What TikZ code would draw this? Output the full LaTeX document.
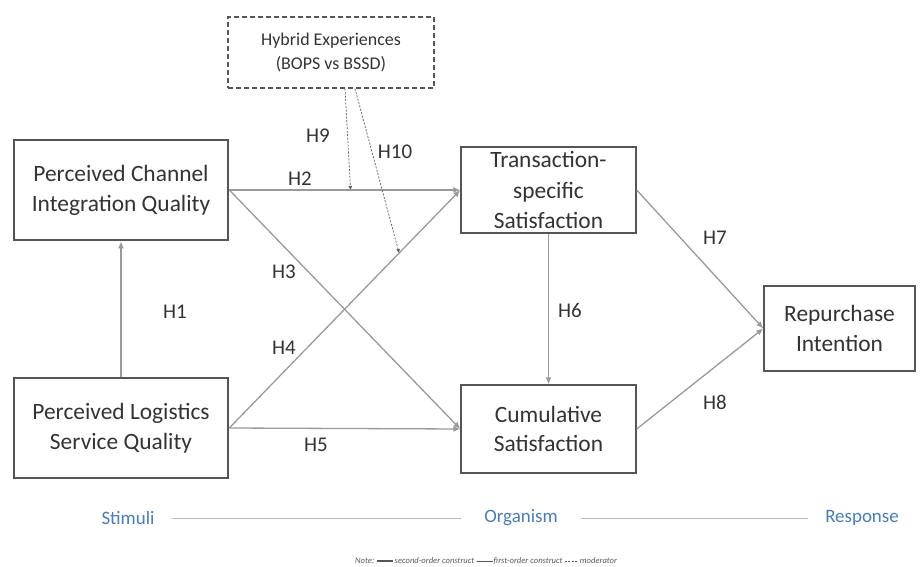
\documentclass[tikz,border=0pt]{standalone}
\usepackage{fontspec}
\setmainfont{Carlito}
\usetikzlibrary{arrows.meta,calc}
\definecolor{boxc}{HTML}{555555}
\definecolor{linec}{HTML}{9A9A9A}
\definecolor{txtc}{HTML}{333333}
\definecolor{sorc}{HTML}{4A7DB0}
\tikzset{
  thickbox/.style={draw=boxc, line width=2.6bp, fill=white, align=center, font=\fontsize{23.5}{30}\selectfont, text=txtc, inner sep=0pt},
  thinbox/.style={draw=boxc, line width=1.4bp, fill=white, align=center, font=\fontsize{23.5}{30}\selectfont, text=txtc, inner sep=0pt},
  dashbox/.style={draw=boxc, line width=1.2bp, dash pattern=on 5bp off 3bp, fill=white, align=center, font=\fontsize{18}{25}\selectfont, text=txtc, inner sep=0pt},
  path/.style={draw=linec, line width=1.3bp, -{Latex[length=7bp,width=6bp]}},
  modpath/.style={draw=txtc!80, line width=0.7bp, dash pattern=on 2bp off 1.5bp, -{Latex[length=4bp,width=4bp]}},
  hlab/.style={font=\fontsize{21}{24}\selectfont, text=txtc},
  sor/.style={font=\fontsize{19}{22}\selectfont, text=sorc},
  sorline/.style={draw=linec!70, line width=0.9bp},
  notet/.style={font=\fontsize{8.6}{9}\selectfont\itshape, text=txtc!80, anchor=west, inner sep=1bp}
}
\begin{document}
\begin{tikzpicture}[x=1bp,y=-1bp]
\useasboundingbox[fill=white] (0,0) rectangle (923,567);
\node[dashbox, minimum width=206bp, minimum height=71bp] (hyb) at (331,52.5) {Hybrid Experiences\\(BOPS vs BSSD)};
\node[thickbox, minimum width=214bp, minimum height=100bp] (pciq) at (121,190) {Perceived Channel\\Integration Quality};
\node[thickbox, minimum width=214bp, minimum height=100bp] (plsq) at (121,428) {Perceived Logistics\\Service Quality};
\node[thinbox, minimum width=175bp, minimum height=86bp, font=\fontsize{23.5}{31}\selectfont] (tss) at (548.5,190) {Transaction-\\specific\\Satisfaction};
\node[thinbox, minimum width=175bp, minimum height=88bp] (cs) at (548.5,429) {Cumulative\\Satisfaction};
\node[thinbox, minimum width=151bp, minimum height=85bp] (ri) at (839.5,328.5) {Repurchase\\Intention};

\coordinate (pe) at (pciq.east);
\coordinate (le) at (plsq.east);
\draw[path] (pe) -- (tss.west);
\draw[path] (pe) -- (cs.west);
\draw[path] (le) -- (tss.west);
\draw[path] (le) -- (cs.west);
\draw[path] (plsq.north) -- (pciq.south);
\draw[path] (tss.south) -- (cs.north);
\draw[path] (tss.east) -- (ri.west);
\draw[path] (cs.east) -- (ri.west);

\coordinate (h9s) at ($(hyb.south)+(14,0)$);
\coordinate (h10s) at ($(hyb.south)+(24,0)$);
\coordinate (h9t) at ($(pe)!0.525!(tss.west)$);
\coordinate (h10t) at ($(le)!0.735!(tss.west)$);
\draw[modpath] (h9s) -- (h9t);
\draw[modpath] (h10s) -- (h10t);

\node[hlab] (l1) at (175,312) {H1};
\node[hlab] (l2) at (300,179) {H2};
\node[hlab] (l3) at (284,272) {H3};
\node[hlab] (l4) at (284,348) {H4};
\node[hlab] (l5) at (316,445) {H5};
\node[hlab] (l6) at (570,311) {H6};
\node[hlab] (l7) at (715,238) {H7};
\node[hlab] (l8) at (715,402) {H8};
\node[hlab] (l9) at (318,136) {H9};
\node[hlab] (l10) at (395,152) {H10};

\node[sor] (st) at (128,518) {Stimuli};
\node[sor] (org) at (521,518) {Organism};
\node[sor] (res) at (862,518) {Response};
\draw[sorline] ($(st.east)+(14,0)$) -- ($(org.west)+(-20,0)$);
\draw[sorline] ($(org.east)+(20,0)$) -- ($(res.west)+(-14,0)$);

\node[notet] (note) at (354,561) {Note:};
\draw[boxc, line width=2bp] ($(note.east)+(2,0)$) -- ++(16,0) coordinate (n1);
\node[notet] (n1t) at (n1) {second-order construct};
\draw[boxc, line width=0.6bp] ($(n1t.east)+(1,0)$) -- ++(16,0) coordinate (n2);
\node[notet] (n2t) at (n2) {first-order construct};
\draw[boxc, line width=0.6bp, dash pattern=on 2bp off 1.5bp] ($(n2t.east)+(1,0)$) -- ++(14,0) coordinate (n3);
\node[notet] (n3t) at (n3) {moderator};
\end{tikzpicture}
\end{document}
